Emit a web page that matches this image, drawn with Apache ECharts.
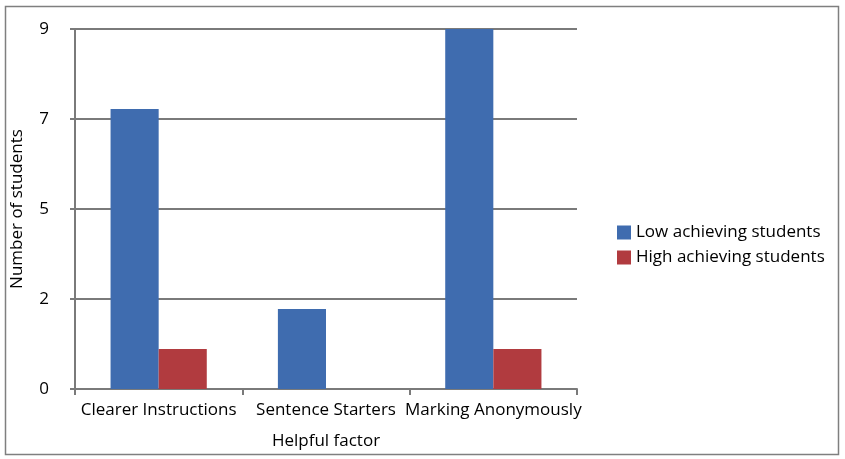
<!DOCTYPE html>
<html><head><meta charset="utf-8">
<script src="https://cdn.jsdelivr.net/npm/echarts@6/dist/echarts.min.js"></script>
<style>html,body{margin:0;padding:0;background:#fff}#c{width:845px;height:459px}</style>
</head><body><div id="c"></div>
<script>
const categories = ['Clearer Instructions', 'Sentence Starters', 'Marking Anonymously'];
const lowAchieving = [7, 2, 9];
const highAchieving = [1, 0, 1];
const seriesNames = ['Low achieving students', 'High achieving students'];
const yTitle = 'Number of students';
const xTitle = 'Helpful factor';

const font = 'Open Sans';
const fs = 17;
const chart = echarts.init(document.getElementById('c'), null, {renderer: 'canvas'});
chart.setOption({
  animation: false,
  textStyle: {fontFamily: font},
  graphic: [{type: 'rect', shape: {x: 5.5, y: 6.5, width: 833, height: 448}, style: {fill: null, stroke: '#7f7f7f', lineWidth: 1.5}, z: -1}],
  grid: {left: 75, right: 268, top: 29, bottom: 70, containLabel: false, outerBoundsMode: 'none'},
  legend: {
    orient: 'vertical', left: 612, top: 219, itemWidth: 14, itemHeight: 14, itemGap: 8,
    icon: 'rect', textStyle: {fontFamily: font, fontSize: fs, color: '#000'},
    data: seriesNames
  },
  xAxis: {
    type: 'category', data: categories,
    name: xTitle, nameLocation: 'middle', nameGap: 44,
    nameTextStyle: {fontFamily: font, fontSize: fs, color: '#000'},
    axisLine: {lineStyle: {color: '#7a7a7a', width: 2}},
    axisTick: {show: true, length: 6, lineStyle: {color: '#7a7a7a', width: 2}},
    axisLabel: {fontFamily: font, fontSize: fs, color: '#000', margin: 13, interval: 0}
  },
  yAxis: {
    type: 'value', min: 0, max: 9, interval: 2.25,
    name: yTitle, nameLocation: 'middle', nameGap: 49, nameRotate: 90,
    nameTextStyle: {fontFamily: font, fontSize: fs, color: '#000'},
    axisLine: {show: true, lineStyle: {color: '#7a7a7a', width: 2}},
    axisTick: {show: true, length: 5, lineStyle: {color: '#7a7a7a', width: 2}},
    splitLine: {lineStyle: {color: '#7a7a7a', width: 2}},
    axisLabel: {fontFamily: font, fontSize: fs, color: '#000', margin: 26, formatter: v => String(Math.round(v))}
  },
  series: [
    {name: seriesNames[0], type: 'bar', data: lowAchieving, itemStyle: {color: '#3F6CAF'}, barGap: '0%', barCategoryGap: '42.5%'},
    {name: seriesNames[1], type: 'bar', data: highAchieving, itemStyle: {color: '#B13B3F'}, barGap: '0%', barCategoryGap: '42.5%'}
  ]
});
</script></body></html>
